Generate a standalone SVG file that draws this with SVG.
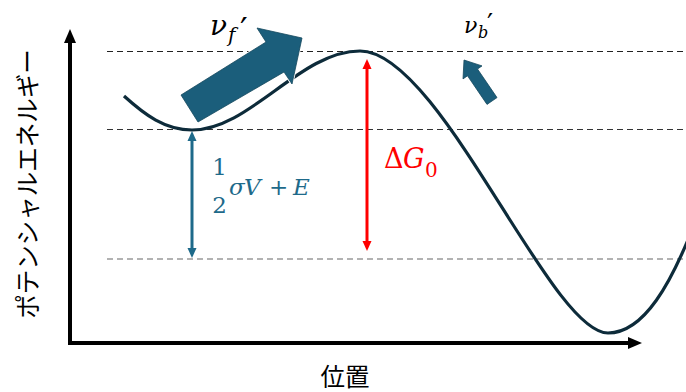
<svg xmlns="http://www.w3.org/2000/svg" width="686" height="392" viewBox="0 0 686 392">
<style>
.math{font-family:"DejaVu Serif","Liberation Serif",serif;}
.it{font-style:italic;}
.jp{font-family:"Noto Sans CJK JP","Noto Sans",sans-serif;fill:#000;}
.dash{fill:none;stroke-width:1.2;stroke-dasharray:6 4;}
</style>
<defs>
<marker id="hb" viewBox="0 0 10 10" refX="2" refY="5" markerWidth="10" markerHeight="10" markerUnits="userSpaceOnUse" orient="auto-start-reverse"><path d="M0,0.5 L10,5 L0,9.5z" fill="#1E6A8A"/></marker>
<marker id="hr" viewBox="0 0 10 10" refX="2" refY="5" markerWidth="10" markerHeight="10" markerUnits="userSpaceOnUse" orient="auto-start-reverse"><path d="M0,0.5 L10,5 L0,9.5z" fill="#FF0000"/></marker>
</defs>
<rect width="686" height="392" fill="#fff"/>
<g id="guides">
<line class="dash" x1="107" y1="51.5" x2="686" y2="51.5" stroke="#222"/>
<line class="dash" x1="107" y1="129.5" x2="686" y2="129.5" stroke="#333"/>
<line class="dash" x1="107" y1="259" x2="686" y2="259" stroke="#666"/>
</g>
<g id="axes">
<polyline points="70,42 70,343 629,343" fill="none" stroke="#000" stroke-width="4"/>
<polygon points="70,29 64,43 76,43" fill="#000"/>
<polygon points="642,343 628,337 628,349" fill="#000"/>
</g>
<g id="curve">
<path d="M124,96 C145,115 165,130 192,130 C250,130 300,51 360,51 C440,51 550,333 608,333 C645,333 672,280 692,230" fill="none" stroke="#0D2B3A" stroke-width="3.2"/>
</g>
<g id="connectors">
<polygon points="181,95 266,42 257,28 302,38 292,84 284,72 198,122" fill="#1B5E7B" stroke="#fff" stroke-width="2.5" stroke-linejoin="miter"/>
<polygon points="181,95 266,42 257,28 302,38 292,84 284,72 198,122" fill="#1B5E7B" stroke="#14475D" stroke-width="0.8"/>
<polygon points="487,104.4 467.5,75.8 463,78.9 464,60 482,65.9 477.5,69 497,97.6" fill="#1B5E7B" stroke="#14475D" stroke-width="0.8"/>
<line x1="192" y1="139" x2="192" y2="250" stroke="#1E6A8A" stroke-width="3" marker-start="url(#hb)" marker-end="url(#hb)"/>
<line x1="367" y1="67" x2="367" y2="243" stroke="#FF0000" stroke-width="3" marker-start="url(#hr)" marker-end="url(#hr)"/>
</g>
<g id="label-vf" class="math" fill="#000">
<text x="210" y="35" font-size="28" class="it">ν</text>
<text x="228" y="42" font-size="20" class="it">f</text>
<text x="240" y="42" font-size="34">′</text>
</g>
<g id="label-vb" class="math" fill="#000">
<text x="464" y="33" font-size="22" class="it">ν</text>
<text x="478" y="38" font-size="16" class="it">b</text>
<text x="487" y="34" font-size="27">′</text>
</g>
<g id="label-energy" class="math" fill="#1E6A8A">
<text x="219.5" y="175" font-size="23" text-anchor="middle">1</text>
<text x="219.5" y="213" font-size="23" text-anchor="middle">2</text>
<text x="229" y="195" font-size="23" class="it">σ</text>
<text x="244" y="195" font-size="23" class="it">V</text>
<text x="269" y="195" font-size="23">+</text>
<text x="293" y="195" font-size="23" class="it">E</text>
</g>
<g id="label-dG" class="math" fill="#FF0000">
<text x="384" y="168" font-size="27">Δ</text>
<text x="403" y="168" font-size="27" class="it">G</text>
<text x="425" y="177" font-size="20">0</text>
</g>
<g id="axis-labels">
<text class="jp" font-size="24.5" text-anchor="middle" dominant-baseline="central" transform="translate(26,184) rotate(-90)">ポテンシャルエネルギー</text>
<text class="jp" x="345" y="385.5" font-size="24.5" text-anchor="middle">位置</text>
</g>
</svg>
